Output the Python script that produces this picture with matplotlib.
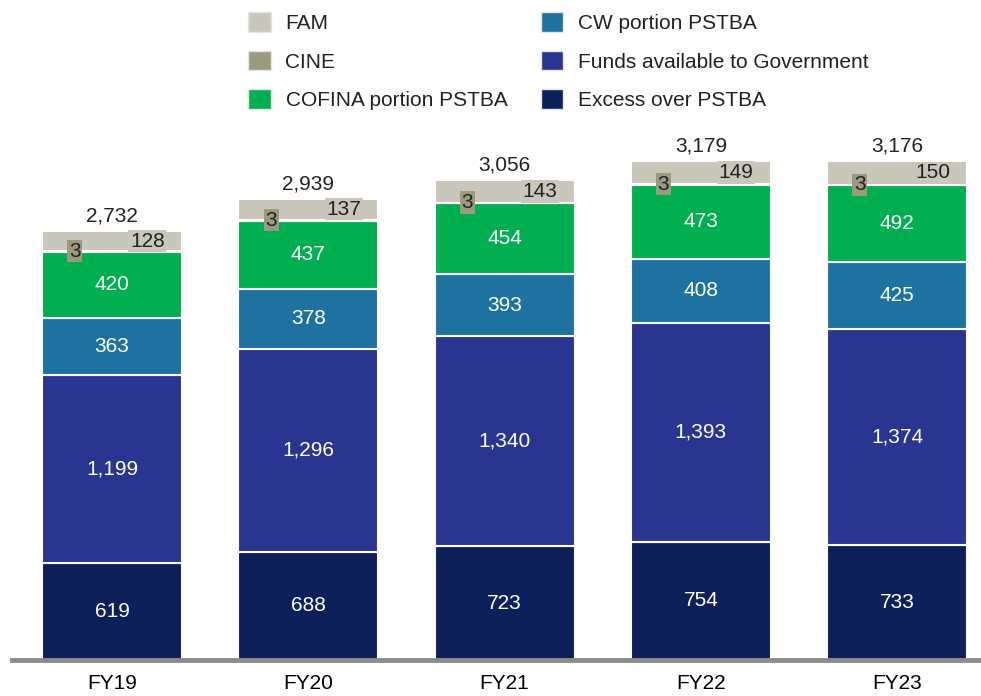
import matplotlib.pyplot as plt
from matplotlib.patches import Patch
from matplotlib import font_manager

plt.rcParams['font.family'] = ['Liberation Sans', 'DejaVu Sans']
names = {f.name for f in font_manager.fontManager.ttflist}
tick_family = "Liberation Sans Narrow" if "Liberation Sans Narrow" in names else "Liberation Sans"

# data
years = ["FY19", "FY20", "FY21", "FY22", "FY23"]
excess = [619, 688, 723, 754, 733]
funds_gov = [1199, 1296, 1340, 1393, 1374]
cw = [363, 378, 393, 408, 425]
cofina = [420, 437, 454, 473, 492]
cine = [3, 3, 3, 3, 3]
fam = [128, 137, 143, 149, 150]
totals = [2732, 2939, 3056, 3179, 3176]

c_excess = "#0d2059"
c_funds = "#2a3591"
c_cw = "#1e72a0"
c_cofina = "#00b050"
c_cine = "#9b9a7e"
c_fam = "#c9c7ba"
fs = 15

fig = plt.figure(figsize=(9.81, 6.96), dpi=100)
ax = fig.add_axes([12 / 981, 36 / 696, 969 / 981, 660 / 696])

x = list(range(len(years)))
w = 0.7125
segs = [(excess, c_excess), (funds_gov, c_funds), (cw, c_cw), (cofina, c_cofina),
        (cine, c_cine), (fam, c_fam)]
bottom = [0] * len(years)
for vals, col in segs:
    ax.bar(x, vals, w, bottom=bottom, color=col, edgecolor="white", linewidth=1.5, zorder=2)
    if vals in (excess, funds_gov, cw, cofina):
        for i, v in enumerate(vals):
            ax.text(x[i], bottom[i] + v / 2, f"{v:,}", ha="center", va="center",
                    color="white", fontsize=fs)
    bottom = [b + v for b, v in zip(bottom, vals)]

# small labels for CINE and FAM
for i in x:
    base = excess[i] + funds_gov[i] + cw[i] + cofina[i]
    ax.text(x[i] - 0.19, base + cine[i], str(cine[i]), ha="center", va="center",
            fontsize=fs, color="#222222", zorder=4,
            bbox=dict(boxstyle="square,pad=0.08", fc=c_cine, ec="none"))
    ax.text(x[i] + 0.18, base + cine[i] + fam[i] / 2, str(fam[i]), ha="center", va="center",
            fontsize=fs, color="#222222", zorder=4,
            bbox=dict(boxstyle="square,pad=0.08", fc=c_fam, ec="none"))
    ax.annotate(f"{totals[i]:,}", (x[i], bottom[i]), xytext=(0, 4), textcoords="offset points",
                ha="center", va="bottom", fontsize=fs, color="#222222")

ax.set_xlim(-0.51, -0.51 + 969 / 196.25)
ax.set_ylim(0, 660 / 0.157)
ax.set_xticks(x)
ax.set_xticklabels(years, fontsize=fs, family=tick_family)
ax.tick_params(axis="x", length=0, pad=10)
ax.set_yticks([])
for s in ["top", "right", "left"]:
    ax.spines[s].set_visible(False)
ax.spines["bottom"].set_color("#8c8c8c")
ax.spines["bottom"].set_linewidth(3.5)

handles = [Patch(facecolor=c_fam, edgecolor="#e6e6e0", label="FAM"),
           Patch(facecolor=c_cine, edgecolor="#e6e6e0", label="CINE"),
           Patch(facecolor=c_cofina, edgecolor="#e6e6e0", label="COFINA portion PSTBA"),
           Patch(facecolor=c_cw, edgecolor="#e6e6e0", label="CW portion PSTBA"),
           Patch(facecolor=c_funds, edgecolor="#e6e6e0", label="Funds available to Government"),
           Patch(facecolor=c_excess, edgecolor="#e6e6e0", label="Excess over PSTBA")]
fig.legend(handles=handles, ncol=2, loc="upper left", bbox_to_anchor=(238 / 981, 1 - 2 / 696),
           frameon=False, fontsize=fs, borderpad=0, handlelength=1.06, handleheight=1.06,
           handletextpad=0.72, labelspacing=0.85, columnspacing=1.63, labelcolor="#222222")

fig.savefig("out.png", dpi=100)
